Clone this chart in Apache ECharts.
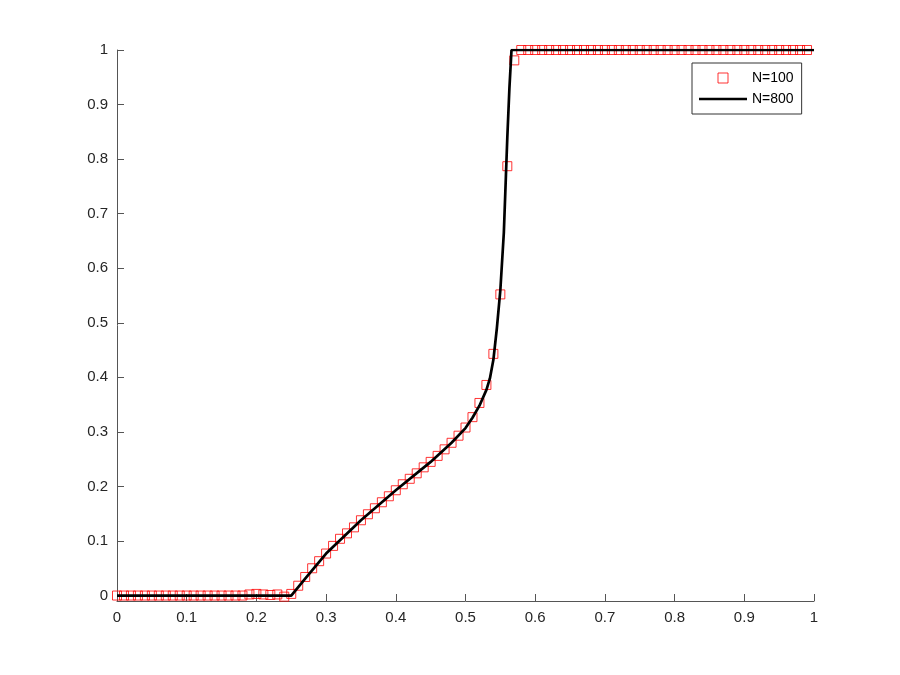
<!DOCTYPE html>
<html>
<head>
<meta charset="utf-8">
<script src="https://cdn.jsdelivr.net/npm/echarts@6/dist/echarts.min.js"></script>
<style>
  * { margin: 0; padding: 0; }
  body { background: #fff; }
  #main { width: 900px; height: 675px; }
</style>
</head>
<body>
<div id="main"></div>
<script>
// N=100 samples (x = 0, 0.01, ... 0.99)
var coarseX = [];
for (var i = 0; i < 100; i++) coarseX.push(i / 100);
var coarseY = [
  0, 0, 0, 0, 0, 0, 0, 0, 0, 0,
  0, 0, 0, 0, 0, 0, 0, 0, 0, 0.002,
  0.003, 0.002, 0.001, 0.002, -0.002, 0.003, 0.018, 0.034, 0.050, 0.063,
  0.077, 0.091, 0.104, 0.114, 0.125, 0.138, 0.149, 0.160, 0.171, 0.182,
  0.193, 0.204, 0.214, 0.224, 0.235, 0.245, 0.256, 0.268, 0.280, 0.293,
  0.308, 0.327, 0.353, 0.386, 0.443, 0.552, 0.787, 0.981, 1, 1,
  1, 1, 1, 1, 1, 1, 1, 1, 1, 1,
  1, 1, 1, 1, 1, 1, 1, 1, 1, 1,
  1, 1, 1, 1, 1, 1, 1, 1, 1, 1,
  1, 1, 1, 1, 1, 1, 1, 1, 1, 1
];

// N=800 curve
var fineX = [0, 0.25, 0.27, 0.30, 0.35, 0.40, 0.45, 0.48, 0.50, 0.51, 0.52, 0.53, 0.535, 0.54, 0.545, 0.55, 0.555, 0.558, 0.56, 0.563, 0.566, 1];
var fineY = [0, 0, 0.031, 0.077, 0.138, 0.193, 0.245, 0.280, 0.307, 0.326, 0.348, 0.377, 0.398, 0.432, 0.49, 0.56, 0.665, 0.77, 0.84, 0.93, 1.0, 1.0];

var xTicks = [0, 0.1, 0.2, 0.3, 0.4, 0.5, 0.6, 0.7, 0.8, 0.9, 1];
var yTicks = [0, 0.1, 0.2, 0.3, 0.4, 0.5, 0.6, 0.7, 0.8, 0.9, 1];

var coarseData = coarseX.map(function (x, k) { return [x, coarseY[k]]; });
var fineData = fineX.map(function (x, k) { return [x, fineY[k]]; });

var axisColor = '#555';
var labelFont = { fontFamily: 'Liberation Sans', fontSize: 15, color: '#262626' };
function fmt(v) { return String(+(+v).toFixed(2)); }

var chart = echarts.init(document.getElementById('main'));
chart.setOption({
  animation: false,
  backgroundColor: '#fff',
  grid: { left: 117, top: 50, right: 86, bottom: 74 },
  legend: {
    orient: 'vertical',
    left: 692,
    top: 63,
    padding: [8, 8, 8, 7],
    itemGap: 7,
    itemWidth: 48,
    itemHeight: 10,
    backgroundColor: '#fff',
    borderColor: '#333',
    borderWidth: 1,
    borderRadius: 0,
    textStyle: { fontFamily: 'Liberation Sans', fontSize: 14, color: '#000' },
    data: [
      {
        name: 'N=100',
        icon: 'path://M0,0H10V10H0Z',
        itemStyle: { color: 'rgba(0,0,0,0)', borderColor: '#ff0000', borderWidth: 1 }
      },
      {
        // plain black stroke, no marker
        name: 'N=800',
        icon: 'path://M0,0H48V2.6H0Z',
        itemStyle: { color: '#000', borderWidth: 0 }
      }
    ]
  },
  xAxis: {
    type: 'value',
    min: 0,
    max: 1,
    axisLine: { onZero: false, lineStyle: { color: axisColor, width: 1 } },
    axisTick: { inside: true, length: 7, lineStyle: { color: axisColor }, customValues: xTicks },
    axisLabel: Object.assign({ margin: 9, formatter: fmt, customValues: xTicks }, labelFont),
    splitLine: { show: false }
  },
  yAxis: {
    type: 'value',
    min: -0.01,
    max: 1,
    axisLine: { show: true, onZero: false, lineStyle: { color: axisColor, width: 1 } },
    axisTick: { show: true, inside: true, length: 7, lineStyle: { color: axisColor }, customValues: yTicks },
    axisLabel: Object.assign({ margin: 9, formatter: fmt, customValues: yTicks }, labelFont),
    splitLine: { show: false }
  },
  series: [
    {
      name: 'N=100',
      type: 'scatter',
      z: 2,
      symbol: 'rect',
      symbolSize: 9,
      itemStyle: { color: 'rgba(0,0,0,0)', borderColor: '#ff0000', borderWidth: 1 },
      data: coarseData
    },
    {
      name: 'N=800',
      type: 'line',
      z: 3,
      showSymbol: false,
      symbol: 'none',
      lineStyle: { color: '#000', width: 2.7 },
      itemStyle: { color: '#000' },
      data: fineData
    }
  ]
});
</script>
</body>
</html>
